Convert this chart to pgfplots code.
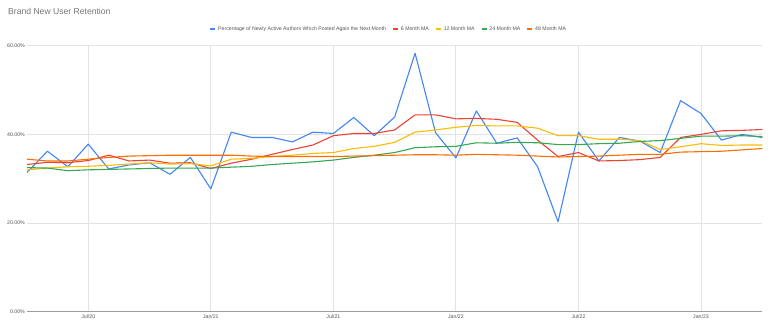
\documentclass[border=0pt]{standalone}
\usepackage{fontspec}
\setmainfont{Liberation Sans}
\usepackage{pgfplots}
\pgfplotsset{compat=1.18}
\definecolor{gblue}{HTML}{4285F4}
\definecolor{gred}{HTML}{EA4335}
\definecolor{gyellow}{HTML}{FBBC04}
\definecolor{ggreen}{HTML}{34A853}
\definecolor{gorange}{HTML}{FF6D01}
\definecolor{titlegray}{HTML}{757575}
\definecolor{labelgray}{HTML}{555555}
\definecolor{gridgray}{HTML}{E3E3E3}
\definecolor{axisgray}{HTML}{9E9E9E}
\begin{document}
\begin{tikzpicture}[x=1pt,y=1pt]
\path[use as bounding box] (0,0) rectangle (768,327);
\node[anchor=west, text=titlegray, font=\fontsize{8.6}{10}\selectfont, inner sep=0pt] at (8,316) {Brand New User Retention};
\begin{axis}[
  at={(27pt,15.3pt)}, anchor=south west,
  scale only axis, width=735.3pt, height=266pt,
  xmin=3, xmax=39, ymin=0, ymax=60,
  separate axis lines,
  axis x line=bottom, axis y line=left,
  x axis line style={draw=axisgray, line width=1pt, -},
  y axis line style={draw=none},
  major tick length=0pt,
  xtick={6,12,18,24,30,36},
  xticklabels={Jul/20,Jan/21,Jul/21,Jan/22,Jul/22,Jan/23},
  ytick={0,20,40,60},
  yticklabels={0.00\%,20.00\%,40.00\%,60.00\%},
  grid=major,
  grid style={draw=gridgray, line width=0.9pt},
  tick label style={font=\fontsize{5.2}{6}\selectfont, text=labelgray},
  yticklabel style={anchor=east, inner sep=0pt, xshift=-2pt},
  xticklabel style={anchor=north, inner sep=0pt, yshift=-2.6pt},
  legend style={at={(0.492,1.063)}, anchor=center, draw=none, fill=none,
    font=\fontsize{5.2}{6}\selectfont, text=labelgray, legend columns=-1,
    /tikz/every even column/.append style={column sep=4pt}},
  legend image code/.code={\draw[#1, line width=1.8pt] (0pt,0pt) -- (5pt,0pt);},
  every axis plot/.append style={line width=1.1pt, line join=round},
]
\addplot[gblue, no marks] coordinates {
(3,31.4)(4,36.2)(5,32.7)(6,37.8)(7,32.2)(8,33.1)(9,33.6)(10,31.0)(11,34.8)(12,27.7)
(13,40.5)(14,39.3)(15,39.3)(16,38.3)(17,40.5)(18,40.2)(19,43.8)(20,39.7)(21,43.9)(22,58.3)
(23,40.4)(24,34.7)(25,45.3)(26,38.0)(27,39.2)(28,32.7)(29,20.3)(30,40.5)(31,34.0)(32,39.3)
(33,38.5)(34,35.9)(35,47.6)(36,44.7)(37,38.7)(38,40.0)(39,39.3)};
\addlegendentry{Percentage of Newly Active Authors Which Posted Again the Next Month}
\addplot[gred, no marks] coordinates {
(3,33.2)(4,33.7)(5,33.6)(6,34.1)(7,35.3)(8,34.0)(9,34.2)(10,33.5)(11,33.6)(12,32.3)
(13,33.5)(14,34.4)(15,35.5)(16,36.6)(17,37.6)(18,39.7)(19,40.2)(20,40.2)(21,41.0)(22,44.4)
(23,44.4)(24,43.5)(25,43.6)(26,43.4)(27,42.7)(28,38.7)(29,35.0)(30,35.9)(31,34.0)(32,34.1)
(33,34.3)(34,34.8)(35,39.3)(36,40.0)(37,40.8)(38,40.9)(39,41.1)};
\addlegendentry{6 Month MA}
\addplot[gyellow, no marks] coordinates {
(3,32.0)(4,32.4)(5,32.7)(6,32.8)(7,33.0)(8,33.3)(9,33.6)(10,33.3)(11,33.4)(12,32.9)
(13,34.4)(14,34.6)(15,35.0)(16,35.3)(17,35.7)(18,35.9)(19,36.8)(20,37.3)(21,38.2)(22,40.5)
(23,41.0)(24,41.6)(25,42.0)(26,41.9)(27,41.9)(28,41.4)(29,39.7)(30,39.7)(31,38.9)(32,38.9)
(33,38.6)(34,36.6)(35,37.2)(36,37.9)(37,37.5)(38,37.6)(39,37.6)};
\addlegendentry{12 Month MA}
\addplot[ggreen, no marks] coordinates {
(3,32.5)(4,32.4)(5,31.8)(6,32.0)(7,32.1)(8,32.2)(9,32.3)(10,32.4)(11,32.4)(12,32.4)
(13,32.6)(14,32.8)(15,33.2)(16,33.5)(17,33.8)(18,34.2)(19,34.8)(20,35.3)(21,35.9)(22,37.0)
(23,37.2)(24,37.3)(25,38.1)(26,38.0)(27,38.2)(28,38.1)(29,37.7)(30,37.7)(31,37.9)(32,38.0)
(33,38.4)(34,38.6)(35,39.1)(36,39.6)(37,39.6)(38,39.7)(39,39.5)};
\addlegendentry{24 Month MA}
\addplot[gorange, no marks] coordinates {
(3,34.4)(4,34.0)(5,34.0)(6,34.4)(7,34.8)(8,35.1)(9,35.2)(10,35.3)(11,35.3)(12,35.3)
(13,35.3)(14,35.1)(15,35.0)(16,35.0)(17,35.0)(18,35.0)(19,35.1)(20,35.2)(21,35.3)(22,35.4)
(23,35.4)(24,35.3)(25,35.5)(26,35.4)(27,35.3)(28,35.1)(29,34.9)(30,35.0)(31,35.1)(32,35.3)
(33,35.5)(34,35.5)(35,36.0)(36,36.1)(37,36.2)(38,36.5)(39,36.8)};
\addlegendentry{48 Month MA}
\end{axis}
\end{tikzpicture}
\end{document}
